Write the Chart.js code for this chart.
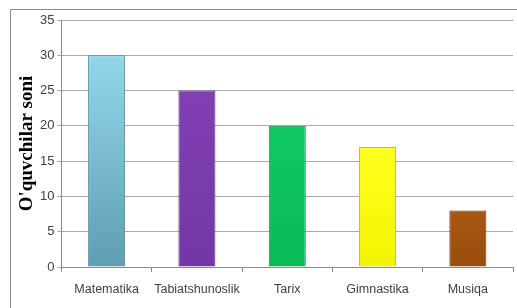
<!DOCTYPE html>
<html>
<head>
<meta charset="utf-8">
<script src="https://cdn.jsdelivr.net/npm/chart.js@4"></script>
<style>
  html, body { margin: 0; padding: 0; background: #fff; }
  #wrap { width: 517px; height: 308px; position: relative; }
</style>
</head>
<body>
<div id="wrap"><canvas id="chart"></canvas></div>
<script>
// Chart data
const categories = ['Matematika', 'Tabiatshunoslik', 'Tarix', 'Gimnastika', 'Musiqa'];
const pupils = [30, 25, 20, 17, 8];
const yTicks = [0, 5, 10, 15, 20, 25, 30, 35];

// bar colours: top, bottom, edge
const barTop = ['#93d6ea', '#8040b4', '#10c862', '#ffff20', '#a85812'];
const barBottom = ['#5f9eb2', '#7436a6', '#0aba56', '#f4f400', '#9a4c0c'];
const barEdge = ['#4f8798', '#5e2a88', '#08924a', '#c8c800', '#6e360a'];

// outer frame like the original spreadsheet chart
const framePlugin = {
  id: 'frame',
  beforeDraw(chart) {
    const ctx = chart.ctx;
    ctx.save();
    ctx.strokeStyle = '#8a8a8a';
    ctx.lineWidth = 1;
    ctx.beginPath();
    ctx.moveTo(10.5, chart.height);
    ctx.lineTo(10.5, 9.5);
    ctx.lineTo(chart.width, 9.5);
    ctx.stroke();
    ctx.restore();
  }
};

const barFill = (c) => {
  const chart = c.chart;
  const area = chart.chartArea;
  if (!area) return barTop[c.dataIndex];
  const y0 = chart.scales.y.getPixelForValue(pupils[c.dataIndex]);
  const g = chart.ctx.createLinearGradient(0, y0, 0, area.bottom);
  g.addColorStop(0, barTop[c.dataIndex]);
  g.addColorStop(1, barBottom[c.dataIndex]);
  return g;
};

new Chart(document.getElementById('chart'), {
  type: 'bar',
  data: {
    labels: categories,
    datasets: [{
      data: pupils,
      backgroundColor: barFill,
      borderColor: barEdge,
      borderWidth: 1,
      barPercentage: 0.41,
      categoryPercentage: 1.0,
    }],
  },
  plugins: [framePlugin],
  options: {
    responsive: true,
    maintainAspectRatio: false,
    animation: false,
    layout: { padding: { left: 18, top: 20, right: 4, bottom: 1 } },
    plugins: {
      legend: { display: false },
      tooltip: { enabled: false },
    },
    scales: {
      x: {
        grid: { drawOnChartArea: false, tickLength: 5, color: '#8a8a8a' },
        border: { color: '#8a8a8a' },
        ticks: {
          color: '#404040', font: { family: 'Liberation Sans', size: 12.5 }, padding: 10,
          maxRotation: 0, minRotation: 0, autoSkip: false,
        },
      },
      y: {
        min: 0,
        max: 35,
        afterBuildTicks: (axis) => { axis.ticks = yTicks.map(v => ({ value: v })); },
        grid: { color: '#ababab', tickLength: 4 },
        border: { color: '#8a8a8a' },
        ticks: { color: '#404040', font: { family: 'Liberation Sans', size: 13 }, padding: 3 },
        title: {
          display: true,
          text: "O'quvchilar soni",
          color: '#000',
          font: { family: 'Liberation Serif', size: 19, weight: 'bold', lineHeight: 1 },
          padding: { top: 0, bottom: 0 },
        },
      },
    },
  },
});
</script>
</body>
</html>
